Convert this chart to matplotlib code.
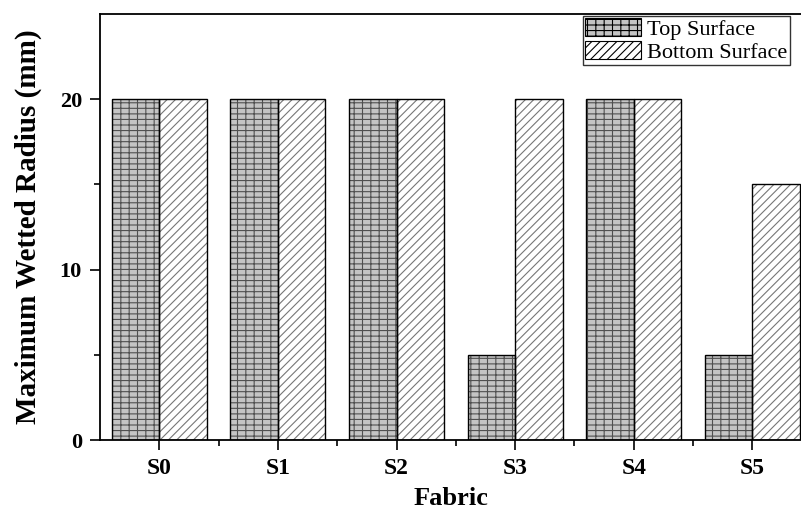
import matplotlib.pyplot as plt
import numpy as np

fabrics = ["S0", "S1", "S2", "S3", "S4", "S5"]
top_surface = [20, 20, 20, 5, 20, 5]
bottom_surface = [20, 20, 20, 20, 20, 15]

plt.rcParams["font.family"] = ["Liberation Serif", "DejaVu Serif"]
plt.rcParams["hatch.linewidth"] = 0.8

fig = plt.figure(figsize=(8.01, 5.15), dpi=100)
ax = fig.add_axes([100 / 801, 1 - 440 / 515, 1 - 100 / 801, (440 - 14) / 515])

x = np.arange(len(fabrics))
w = 0.4

# hatched fills (hatch colour follows edgecolor), then black outlines on top
b1 = ax.bar(x - w / 2, top_surface, w, color="#c4c4c4", edgecolor="#505050",
            hatch="++-", linewidth=0, label="Top Surface")
b2 = ax.bar(x + w / 2, bottom_surface, w, color="white", edgecolor="#777777",
            hatch="////", linewidth=0, label="Bottom Surface")
ax.bar(x - w / 2, top_surface, w, fill=False, edgecolor="black", linewidth=1)
ax.bar(x + w / 2, bottom_surface, w, fill=False, edgecolor="black", linewidth=1)

ax.set_xlim(-0.5, 5.41)
ax.set_ylim(0, 25)
ax.set_xticks(x)
ax.set_xticklabels(fabrics, fontsize=17, fontweight="bold")
ax.set_xticks(x[:-1] + 0.5, minor=True)
ax.set_yticks([0, 10, 20])
ax.set_yticklabels(["0", "10", "20"], fontsize=16, fontweight="bold")
ax.set_yticks([5, 15], minor=True)
ax.tick_params(axis="both", which="major", direction="out", length=7, width=1.2, pad=6)
ax.tick_params(axis="both", which="minor", direction="out", length=4, width=1.2)

ax.spines["right"].set_visible(False)
for s in ["left", "bottom", "top"]:
    ax.spines[s].set_linewidth(1.3)

ax.set_xlabel("Fabric", fontsize=19, fontweight="bold", labelpad=6)
ax.set_ylabel("Maximum Wetted Radius (mm)", fontsize=21, fontweight="bold", labelpad=13)

leg = ax.legend(handles=[b1, b2], loc="upper left",
                bbox_to_anchor=((583 - 100) / 701, 0.995),
                fontsize=16, frameon=True, fancybox=False, edgecolor="black",
                borderaxespad=0.0, handlelength=2.5, handleheight=0.85,
                borderpad=0.1, labelspacing=0.05, handletextpad=0.3)
leg.get_frame().set_linewidth(1.0)
for p in leg.get_patches():
    p.set_edgecolor("black")
    p.set_linewidth(0.8)

fig.savefig("out.png", dpi=100)
